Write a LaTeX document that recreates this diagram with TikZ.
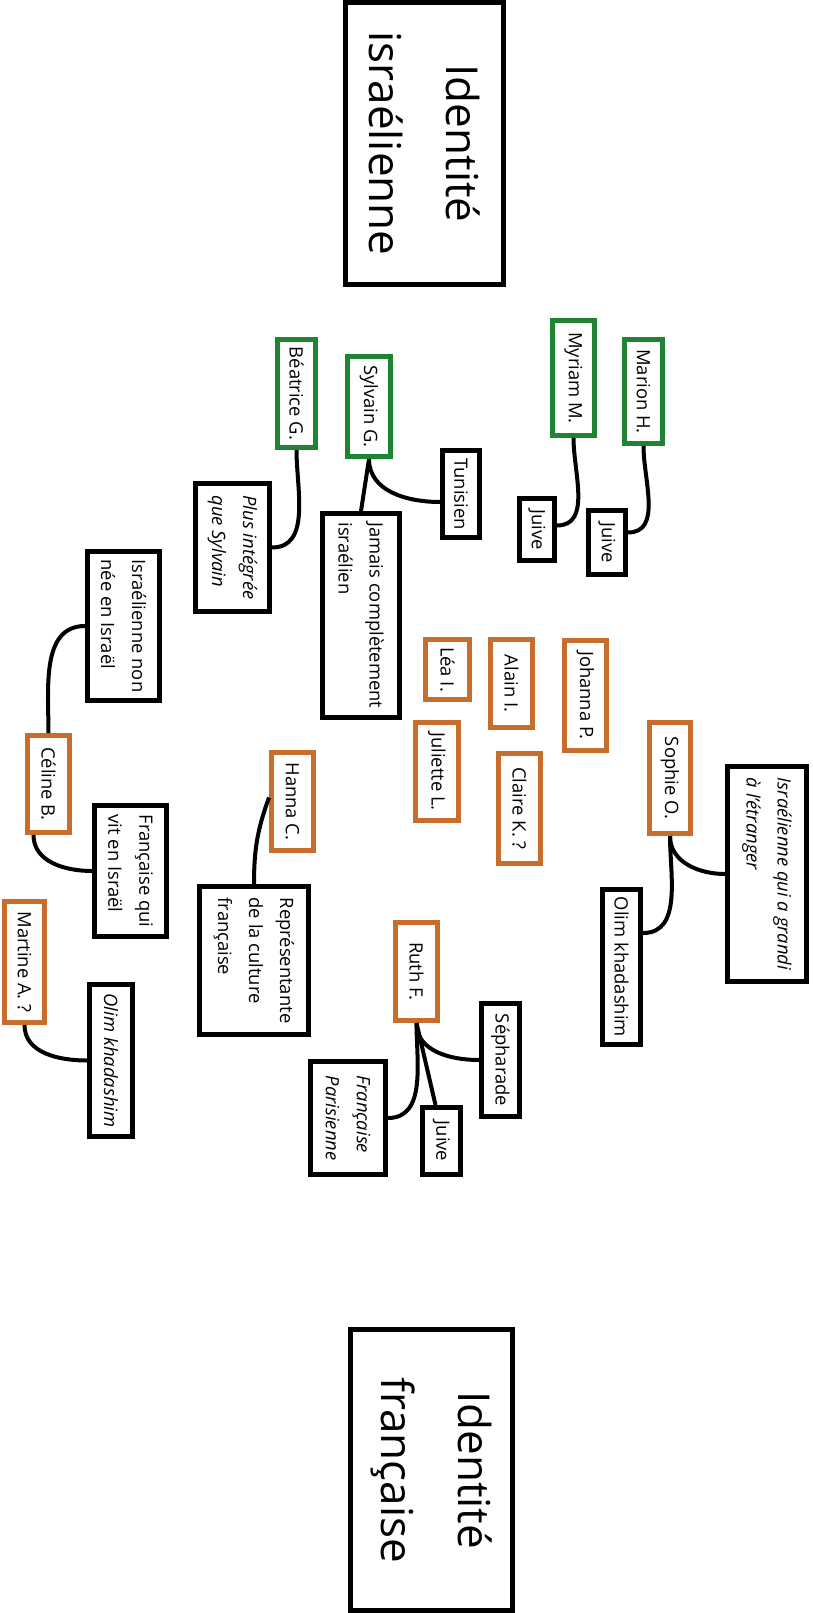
\documentclass[tikz,border=0pt]{standalone}
\usepackage{fontspec}
\setmainfont{Open Sans}
\usepackage{tikz}
\definecolor{grbox}{RGB}{30,132,52}
\definecolor{orbox}{RGB}{200,110,45}
\newcommand\bodyfont{\fontsize{18.4}{31}\selectfont}
\newcommand\titlefont{\fontsize{44}{77}\selectfont}
\tikzset{sz/.style 2 args={minimum width=#1pt,minimum height=#2pt}}

\begin{document}
\begin{tikzpicture}[x=1pt,y=-1pt,
  every node/.style={font=\bodyfont},
  box/.style={draw,line width=5pt,rotate=-90,inner sep=0pt,align=left},
  gbox/.style={box,draw=grbox},
  obox/.style={box,draw=orbox},
  title/.style={box,align=center,font=\titlefont},
  link/.style={line width=4pt}]
\useasboundingbox (0,0) rectangle (813,1613);
% nodes are turned by -90: east = bottom, west = top, north = right, south = left
\node[title,sz={282}{158}] (isr) at (424.5,143.5) {Identité\\israélienne};
\node[title,sz={281}{162}] (fra) at (431.5,1470) {Identité\\française};

\node[gbox,sz={108}{38}] (bea) at (296.5,393.5) {Béatrice G.};
\node[gbox,sz={100}{43}] (syl) at (369,406.5) {Sylvain G.};
\node[box,sz={87}{37}] (tun) at (461,494) {Tunisien};
\node[box,sz={204}{77}] (jam) at (361,615.5) {Jamais complètement\\israélien};
\node[box,sz={128}{74}] (plus) at (232.5,547.5) {\itshape Plus intégrée\\\itshape que Sylvain};
\node[gbox,sz={115}{42}] (myr) at (573.5,378) {Myriam M.};
\node[gbox,sz={104}{38}] (mar) at (643.5,391.5) {Marion H.};
\node[box,sz={62}{35}] (juiA) at (537,529.5) {Juive};
\node[box,sz={64}{37}] (juiB) at (607,542.5) {Juive};

\node[box,sz={149}{72}] (nonnee) at (123.5,626) {Israélienne non\\née en Israël};
\node[obox,sz={97}{42}] (cel) at (48.5,784) {Céline B.};
\node[box,sz={131}{72}] (vit) at (130.5,871) {Française qui\\vit en Israël};
\node[obox,sz={98}{42}] (han) at (292.5,801.5) {Hanna C.};
\node[box,sz={148}{109}] (rep) at (254,960.5) {Représentante\\de la culture\\française};
\node[obox,sz={121}{40}] (mart) at (24.5,962) {Martine A. ?};
\node[box,sz={152}{43}] (olimA) at (111,1060.5) {\itshape Olim khadashim};

\node[obox,sz={60}{44}] (lea) at (447.5,669.5) {Léa I.};
\node[obox,sz={88}{42}] (ala) at (511.5,683.5) {Alain I.};
\node[obox,sz={110}{42}] (joh) at (585.5,695.5) {Johanna P.};
\node[obox,sz={98}{43}] (jul) at (437,771.5) {Juliette L.};
\node[obox,sz={110}{42}] (cla) at (519.5,808.5) {Claire K. ?};
\node[obox,sz={111}{41}] (sop) at (670,778) {Sophie O.};
\node[box,sz={215}{79}] (etr) at (767,874) {\itshape Israélienne qui a grandi\\\itshape à l’étranger};
\node[box,sz={155}{38}] (olimB) at (621.5,967) {Olim khadashim};

\node[obox,sz={98}{42}] (ruth) at (416.5,971.5) {Ruth F.};
\node[box,sz={113}{38}] (seph) at (500.5,1060) {Sépharade};
\node[box,sz={67}{38}] (juiC) at (441.5,1141) {Juive};
\node[box,sz={113}{75}] (paris) at (348,1118) {\itshape Française\\\itshape Parisienne};

\draw[link] (bea.east) to[out=-90,in=0] (plus.north);
\draw[link] (syl.east) -- (jam.west);
\draw[link] (syl.east) to[out=-90,in=180] ([yshift=-8pt]tun.south);
\draw[link] (myr.east) to[out=-90,in=0] ([yshift=4pt]juiA.north);
\draw[link] (mar.east) to[out=-90,in=0] ([yshift=10pt]juiB.north);
\draw[link] (cel.west) to[out=90,in=180] (nonnee.south);
\draw[link] ([xshift=-15pt]cel.east) to[out=-90,in=180] (vit.south);
\draw[link] ([yshift=4pt]han.south) to[out=250,in=90] (rep.west);
\draw[link] (mart.east) to[out=-90,in=180] (olimA.south);
\draw[link] (sop.east) to[out=-90,in=180] (etr.south);
\draw[link] (sop.east) to[out=-90,in=0] ([yshift=34pt]olimB.north);
\draw[link] (ruth.east) to[out=-90,in=180] (seph.south);
\draw[link] (ruth.east) -- ([xshift=-6pt]juiC.west);
\draw[link] (ruth.east) to[out=-90,in=0] (paris.north);
\end{tikzpicture}
\end{document}
